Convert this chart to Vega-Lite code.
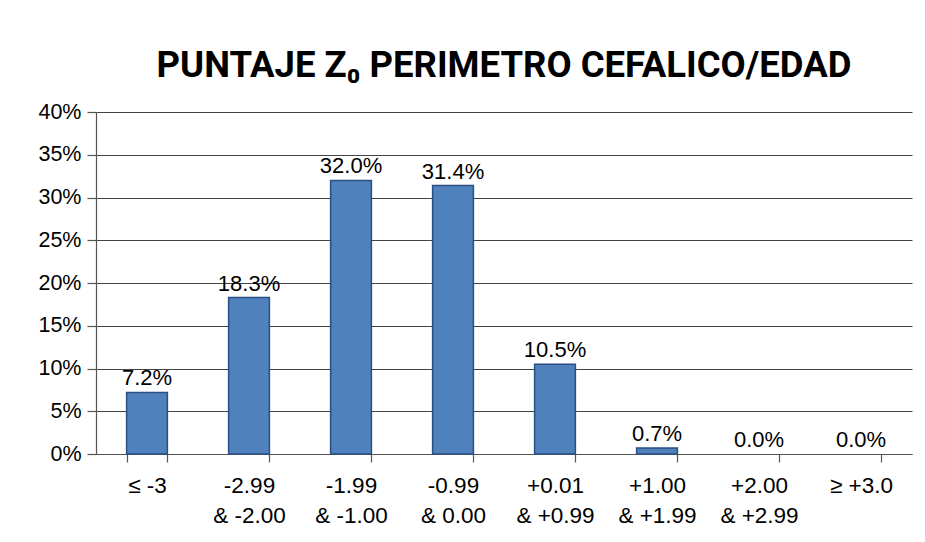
{
  "$schema": "https://vega.github.io/schema/vega-lite/v6.json",
  "width": 816,
  "height": 342,
  "autosize": {"type": "none"},
  "padding": {"left": 96, "top": 112, "right": 13, "bottom": 88},
  "background": "white",
  "title": {
    "text": "PUNTAJE Z₀ PERIMETRO CEFALICO/EDAD",
    "font": "Roboto",
    "fontSize": 36.5,
    "fontWeight": "bold",
    "color": "#000000",
    "anchor": "middle",
    "offset": 17
  },
  "data": {
    "values": [
      {"cat": "≤ -3", "pct": 0.072},
      {"cat": "-2.99|& -2.00", "pct": 0.183},
      {"cat": "-1.99|& -1.00", "pct": 0.320},
      {"cat": "-0.99|& 0.00", "pct": 0.314},
      {"cat": "+0.01|& +0.99", "pct": 0.105},
      {"cat": "+1.00|& +1.99", "pct": 0.007},
      {"cat": "+2.00|& +2.99", "pct": 0.0},
      {"cat": "≥ +3.0", "pct": 0.0}
    ]
  },
  "encoding": {
    "x": {
      "field": "cat",
      "type": "nominal",
      "sort": null,
      "scale": {"paddingInner": 0.6, "paddingOuter": 0.3},
      "axis": {
        "title": null,
        "labelAngle": 0,
        "labelExpr": "split(datum.label, '|')",
        "labelFont": "Liberation Sans",
        "labelFontSize": 22.5,
        "labelColor": "#000000",
        "labelLineHeight": 30,
        "labelPadding": 12,
        "labelBaseline": "top",
        "tickBand": "extent",
        "tickSize": 8,
        "tickColor": "#555555",
        "tickWidth": 1.2,
        "domainColor": "#555555",
        "domainWidth": 1.2,
        "grid": false
      }
    },
    "y": {
      "field": "pct",
      "type": "quantitative",
      "scale": {"domain": [0, 0.4], "nice": false},
      "axis": {
        "title": null,
        "format": ".0%",
        "values": [0, 0.05, 0.1, 0.15, 0.2, 0.25, 0.3, 0.35, 0.4],
        "labelFont": "Liberation Sans",
        "labelFontSize": 21.5,
        "labelColor": "#000000",
        "labelPadding": 6,
        "tickSize": 9,
        "tickColor": "#555555",
        "tickWidth": 1.2,
        "domainColor": "#555555",
        "domainWidth": 1.2,
        "gridColor": "#444444",
        "gridWidth": 1.2
      }
    }
  },
  "layer": [
    {
      "mark": {"type": "bar", "color": "#4F81BD", "stroke": "#2A4F82", "strokeWidth": 1.5},
      "encoding": {
        "strokeOpacity": {"condition": {"test": "datum.pct == 0", "value": 0}, "value": 1}
      }
    },
    {
      "mark": {"type": "text", "baseline": "alphabetic", "dy": -7, "font": "Liberation Sans", "fontSize": 22, "color": "#000000"},
      "encoding": {"text": {"field": "pct", "type": "quantitative", "format": ".1%"}}
    }
  ],
  "config": {"view": {"stroke": null}}
}
